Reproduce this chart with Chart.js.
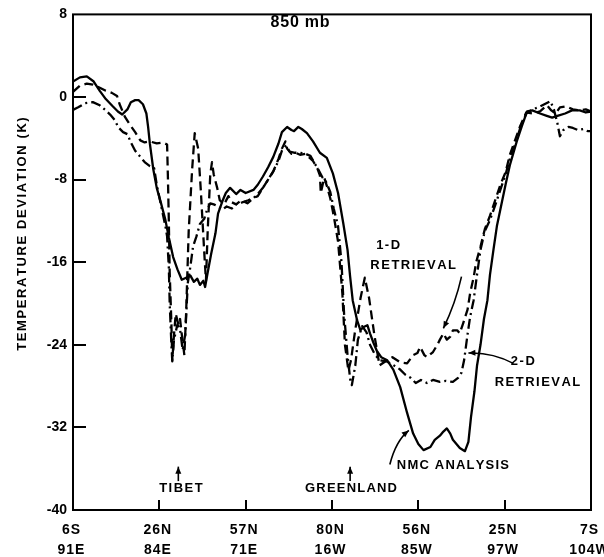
<!DOCTYPE html>
<html>
<head>
<meta charset="utf-8">
<title>850 mb temperature deviation</title>
<script src="https://cdn.jsdelivr.net/npm/chart.js@4.4.1/dist/chart.umd.min.js"></script>
<style>
  html, body { margin: 0; padding: 0; background: #fff; }
  canvas { display: block; }
</style>
</head>
<body>
<canvas id="c" width="604" height="557"></canvas>
<script>
// Along-track position (0 = first station, 6 = last station) and temperature deviation (K)
const trackLat = ['6S', '26N', '57N', '80N', '56N', '25N', '7S'];
const trackLon = ['91E', '84E', '71E', '16W', '85W', '97W', '104W'];
const yTicks = [8, 0, -8, -16, -24, -32, -40];

// NMC analysis (solid)
const nmcPos = [0.00,0.08,0.16,0.24,0.31,0.38,0.46,0.52,0.57,0.63,0.67,0.72,0.76,0.81,0.85,0.87,0.89,0.93,0.97,1.02,
  1.07,1.11,1.16,1.21,1.26,1.31,1.36,1.40,1.44,1.47,1.51,1.53,1.56,1.60,1.65,1.68,1.73,1.77,1.82,1.89,
  1.94,2.00,2.09,2.14,2.20,2.26,2.32,2.38,2.42,2.48,2.53,2.56,2.61,2.65,2.71,2.78,2.86,2.94,3.01,3.07,
  3.13,3.18,3.21,3.24,3.29,3.33,3.36,3.41,3.44,3.48,3.52,3.57,3.64,3.71,3.79,3.87,3.94,4.00,4.06,4.14,
  4.19,4.25,4.29,4.33,4.37,4.40,4.48,4.54,4.58,4.61,4.65,4.68,4.72,4.76,4.80,4.83,4.87,4.91,4.95,5.01,
  5.06,5.14,5.20,5.26,5.32,5.41,5.48,5.55,5.62,5.70,5.78,5.87,5.94,6.00];
const nmcTemp = [1.5,1.9,2.0,1.5,0.6,-0.2,-0.9,-1.4,-1.7,-1.2,-0.5,-0.3,-0.3,-0.7,-1.6,-2.9,-4.5,-7.0,-8.8,-10.3,
  -11.9,-13.6,-15.5,-16.7,-17.7,-17.5,-17.3,-17.9,-17.6,-18.2,-17.8,-18.4,-17.0,-15.2,-13.2,-11.3,-10.1,-9.3,-8.8,-9.4,
  -9.0,-9.3,-9.0,-8.5,-7.7,-6.8,-5.8,-4.5,-3.4,-2.9,-3.2,-3.3,-2.9,-3.1,-3.5,-4.3,-5.4,-5.9,-7.4,-9.3,
  -12.2,-14.8,-17.4,-19.7,-21.6,-22.6,-22.3,-22.1,-22.9,-23.8,-24.6,-25.2,-25.5,-26.4,-28.1,-30.6,-32.6,-33.6,-34.2,-33.9,
  -33.2,-32.8,-32.4,-32.1,-32.6,-33.2,-34.0,-34.3,-33.4,-31.0,-28.5,-26.0,-24.0,-21.5,-19.7,-17.2,-14.8,-12.5,-10.9,-8.5,
  -6.6,-4.3,-2.8,-1.4,-1.3,-1.6,-1.8,-2.0,-1.8,-1.6,-1.3,-1.3,-1.5,-1.4];

// 1-D retrieval (dashed)
const ret1Pos = [0.00,0.08,0.16,0.23,0.31,0.38,0.45,0.51,0.54,0.60,0.66,0.72,0.78,0.83,0.89,0.97,1.04,1.09,1.10,1.11,
  1.12,1.14,1.15,1.17,1.19,1.22,1.24,1.26,1.29,1.31,1.34,1.38,1.41,1.45,1.48,1.52,1.54,1.56,1.59,1.61,
  1.63,1.67,1.70,1.75,1.80,1.84,1.89,1.95,2.02,2.09,2.14,2.20,2.26,2.32,2.38,2.42,2.46,2.48,2.53,2.58,
  2.63,2.69,2.73,2.78,2.83,2.86,2.87,2.91,2.94,2.98,3.02,3.07,3.12,3.15,3.19,3.22,3.27,3.33,3.38,3.43,
  3.49,3.55,3.62,3.70,3.79,3.87,3.94,3.99,4.02,4.07,4.10,4.17,4.22,4.25,4.29,4.33,4.37,4.40,4.45,4.48,
  4.52,4.57,4.60,4.64,4.67,4.72,4.77,4.83,4.89,4.95,5.01,5.06,5.12,5.18,5.25,5.32,5.41,5.49,5.54,5.59,
  5.64,5.71,5.79,5.87,5.94,6.00];
const ret1Temp = [0.5,1.1,1.3,1.2,0.9,0.6,0.4,0.1,-0.7,-1.9,-2.7,-3.4,-4.2,-4.4,-4.3,-4.5,-4.4,-4.6,-8.0,-12.0,
  -17.0,-22.0,-25.5,-23.0,-21.0,-22.0,-21.5,-23.0,-25.0,-21.0,-13.0,-7.0,-3.5,-5.0,-9.0,-15.0,-17.8,-13.0,-7.5,-6.3,
  -7.5,-8.8,-10.0,-10.4,-9.6,-10.2,-10.4,-10.0,-10.3,-9.8,-9.6,-8.8,-8.0,-7.2,-6.0,-5.0,-4.3,-5.0,-5.5,-5.4,
  -5.6,-5.5,-5.8,-6.2,-6.9,-7.6,-9.3,-7.8,-8.6,-9.8,-11.5,-14.0,-19.0,-24.0,-26.5,-25.5,-22.5,-19.5,-17.5,-19.5,
  -23.0,-26.0,-25.6,-25.2,-25.7,-25.8,-25.0,-24.8,-24.2,-25.0,-25.2,-24.7,-24.0,-23.5,-22.9,-23.5,-23.2,-22.6,-22.6,-22.9,
  -21.9,-20.6,-19.0,-17.5,-16.0,-14.5,-12.8,-11.5,-10.0,-8.5,-7.3,-5.6,-4.2,-2.8,-1.5,-1.6,-1.4,-0.8,-1.3,-1.6,
  -1.0,-0.9,-1.2,-1.3,-1.2,-1.4];

// 2-D retrieval (dash-dot)
const ret2Pos = [0.00,0.06,0.14,0.23,0.31,0.38,0.43,0.49,0.52,0.58,0.63,0.67,0.72,0.78,0.83,0.89,0.94,0.97,1.02,1.07,
  1.09,1.11,1.12,1.14,1.15,1.17,1.21,1.24,1.27,1.30,1.33,1.36,1.39,1.43,1.47,1.52,1.55,1.59,1.63,1.68,
  1.73,1.78,1.84,1.90,1.96,2.03,2.09,2.14,2.20,2.26,2.32,2.38,2.42,2.47,2.51,2.57,2.63,2.69,2.75,2.79,
  2.84,2.89,2.93,2.98,3.02,3.07,3.11,3.14,3.18,3.21,3.23,3.27,3.30,3.35,3.40,3.44,3.50,3.56,3.63,3.70,
  3.79,3.85,3.91,3.97,4.03,4.10,4.17,4.25,4.32,4.40,4.46,4.50,4.53,4.57,4.60,4.64,4.68,4.72,4.77,4.83,
  4.89,4.95,5.01,5.06,5.12,5.18,5.25,5.32,5.39,5.46,5.53,5.57,5.61,5.64,5.68,5.74,5.79,5.85,5.91,5.96,6.00];
const ret2Temp = [-1.25,-1.0,-0.6,-0.5,-0.8,-1.3,-1.7,-2.3,-2.9,-3.4,-3.6,-4.4,-5.2,-5.8,-6.3,-6.7,-6.9,-8.5,-10.5,-12.5,
  -13.5,-16.5,-20.0,-24.0,-25.6,-23.5,-22.0,-22.5,-24.5,-23.0,-18.0,-16.4,-14.5,-13.5,-12.3,-11.8,-11.0,-10.3,-10.4,-10.6,
  -10.9,-10.6,-10.8,-10.3,-10.2,-10.0,-9.8,-9.4,-8.8,-8.0,-7.2,-6.2,-5.2,-4.7,-5.3,-5.4,-5.4,-5.5,-5.7,-6.3,
  -7.0,-7.8,-8.2,-9.2,-10.8,-12.5,-16.0,-21.0,-25.0,-27.3,-27.9,-26.0,-23.5,-22.2,-22.8,-24.0,-25.0,-25.5,-25.6,-25.9,
  -26.4,-26.9,-27.2,-27.7,-27.4,-27.7,-27.4,-27.6,-27.5,-27.6,-27.2,-26.7,-25.5,-23.0,-21.3,-19.7,-17.2,-14.8,-13.0,-11.9,
  -10.5,-9.0,-7.5,-6.0,-4.6,-3.0,-1.6,-1.2,-1.0,-0.7,-0.4,-1.2,-2.5,-3.8,-3.2,-2.9,-3.0,-3.2,-3.1,-3.3,-3.3];

const pairs = (xs, ys) => xs.map((x, i) => ({ x: x, y: ys[i] }));

const FONT = "'Liberation Sans', Arial, sans-serif";

// Labels and arrows drawn inside the plot, placed in axis units
const notes = [
  { text: '850 mb', x: 2.63, y: 7.2, size: 16, gap: 0.8 },
  { text: '1-D', x: 3.65, y: -14.4, size: 13, gap: 1.5 },
  { text: 'RETRIEVAL', x: 3.94, y: -16.3, size: 13, gap: 1.5 },
  { text: '2-D', x: 5.21, y: -25.6, size: 13, gap: 1.5 },
  { text: 'RETRIEVAL', x: 5.38, y: -27.6, size: 13, gap: 1.5 },
  { text: 'NMC ANALYSIS', x: 4.40, y: -35.7, size: 13, gap: 1.2 },
  { text: 'TIBET', x: 1.25, y: -37.9, size: 13, gap: 1.5 },
  { text: 'GREENLAND', x: 3.22, y: -37.9, size: 13, gap: 1.2 }
];
// arrows: start, control, tip
const arrows = [
  { from: [1.22, -37.2], ctrl: [1.22, -36.5], to: [1.22, -35.8] },
  { from: [3.21, -37.2], ctrl: [3.21, -36.5], to: [3.21, -35.8] },
  { from: [4.50, -17.4], ctrl: [4.43, -20.0], to: [4.29, -22.4] },
  { from: [5.10, -25.8], ctrl: [4.85, -24.7], to: [4.58, -24.8] },
  { from: [3.67, -35.6], ctrl: [3.74, -33.3], to: [3.89, -32.3] }
];

function spacedText(ctx, str, x, y, gap, align) {
  const chars = Array.from(str);
  const widths = chars.map(c => ctx.measureText(c).width);
  const total = widths.reduce((a, b) => a + b, 0) + gap * (chars.length - 1);
  let cx = align === 'center' ? x - total / 2 : (align === 'right' ? x - total : x);
  ctx.textAlign = 'left';
  chars.forEach((c, i) => { ctx.fillText(c, cx, y); cx += widths[i] + gap; });
}

const framePlugin = {
  id: 'frame',
  beforeDraw(chart) {
    const ctx = chart.ctx;
    ctx.save();
    ctx.fillStyle = '#fff';
    ctx.fillRect(0, 0, chart.width, chart.height);
    ctx.restore();
  },
  afterDraw(chart) {
    const ctx = chart.ctx;
    const a = chart.chartArea;
    const xs = chart.scales.x, ys = chart.scales.y;
    const X = v => xs.getPixelForValue(v), Y = v => ys.getPixelForValue(v);
    ctx.save();
    ctx.strokeStyle = '#000';
    ctx.fillStyle = '#000';
    ctx.lineWidth = 2;
    ctx.setLineDash([]);
    ctx.strokeRect(a.left, a.top, a.right - a.left, a.bottom - a.top);

    // inward tick marks
    ctx.beginPath();
    yTicks.forEach(v => {
      if (v === 8 || v === -40) return;
      const py = Math.round(Y(v));
      ctx.moveTo(a.left, py); ctx.lineTo(a.left + 13, py);
    });
    for (let i = 1; i < trackLat.length - 1; i++) {
      const px = Math.round(X(i));
      ctx.moveTo(px, a.bottom); ctx.lineTo(px, a.bottom - 10);
    }
    ctx.stroke();

    // along-track labels (two rows)
    ctx.font = 'bold 14px ' + FONT;
    ctx.textBaseline = 'middle';
    trackLat.forEach((t, i) => {
      spacedText(ctx, t, X(i) - 2, a.bottom + 20, 1, 'center');
      spacedText(ctx, trackLon[i], X(i) - 2, a.bottom + 40, 1, 'center');
    });

    // y axis title
    ctx.save();
    ctx.translate(22, 234);
    ctx.rotate(-Math.PI / 2);
    ctx.font = 'bold 13px ' + FONT;
    spacedText(ctx, 'TEMPERATURE DEVIATION (K)', 0, 0, 1.6, 'center');
    ctx.restore();

    // notes
    notes.forEach(n => {
      ctx.font = 'bold ' + n.size + 'px ' + FONT;
      spacedText(ctx, n.text, X(n.x), Y(n.y), n.gap, 'center');
    });

    // arrows
    ctx.lineWidth = 1.6;
    arrows.forEach(ar => {
      const p0 = [X(ar.from[0]), Y(ar.from[1])];
      const pc = [X(ar.ctrl[0]), Y(ar.ctrl[1])];
      const p1 = [X(ar.to[0]), Y(ar.to[1])];
      ctx.beginPath();
      ctx.moveTo(p0[0], p0[1]);
      ctx.quadraticCurveTo(pc[0], pc[1], p1[0], p1[1]);
      ctx.stroke();
      const ang = Math.atan2(p1[1] - pc[1], p1[0] - pc[0]);
      const L = 7, W = 3;
      ctx.beginPath();
      ctx.moveTo(p1[0], p1[1]);
      ctx.lineTo(p1[0] - L * Math.cos(ang) + W * Math.sin(ang), p1[1] - L * Math.sin(ang) - W * Math.cos(ang));
      ctx.lineTo(p1[0] - L * Math.cos(ang) - W * Math.sin(ang), p1[1] - L * Math.sin(ang) + W * Math.cos(ang));
      ctx.closePath();
      ctx.fill();
    });
    ctx.restore();
  }
};

const lineStyle = { borderColor: '#000', borderWidth: 2.3, pointRadius: 0, tension: 0, fill: false, borderJoinStyle: 'round' };

new Chart(document.getElementById('c'), {
  type: 'line',
  data: {
    datasets: [
      Object.assign({ label: 'NMC ANALYSIS', data: pairs(nmcPos, nmcTemp) }, lineStyle),
      Object.assign({ label: '1-D RETRIEVAL', data: pairs(ret1Pos, ret1Temp), borderDash: [9, 5] }, lineStyle),
      Object.assign({ label: '2-D RETRIEVAL', data: pairs(ret2Pos, ret2Temp), borderDash: [10, 4, 2, 4] }, lineStyle)
    ]
  },
  options: {
    responsive: false,
    animation: false,
    layout: { padding: { top: 14, right: 13, left: 0, bottom: 0 } },
    plugins: { legend: { display: false }, tooltip: { enabled: false } },
    scales: {
      x: {
        type: 'linear', min: 0, max: 6,
        ticks: { display: false, stepSize: 1 },
        grid: { display: false, drawTicks: false },
        border: { display: false },
        afterFit(s) { s.height = 47; }
      },
      y: {
        type: 'linear', min: -40, max: 8,
        afterBuildTicks(s) { s.ticks = yTicks.map(v => ({ value: v })); },
        ticks: { color: '#000', padding: 6, font: { family: FONT, weight: 'bold', size: 14 } },
        grid: { display: false, drawTicks: false },
        border: { display: false },
        afterFit(s) { s.width = 73; }
      }
    }
  },
  plugins: [framePlugin]
});
</script>
</body>
</html>
